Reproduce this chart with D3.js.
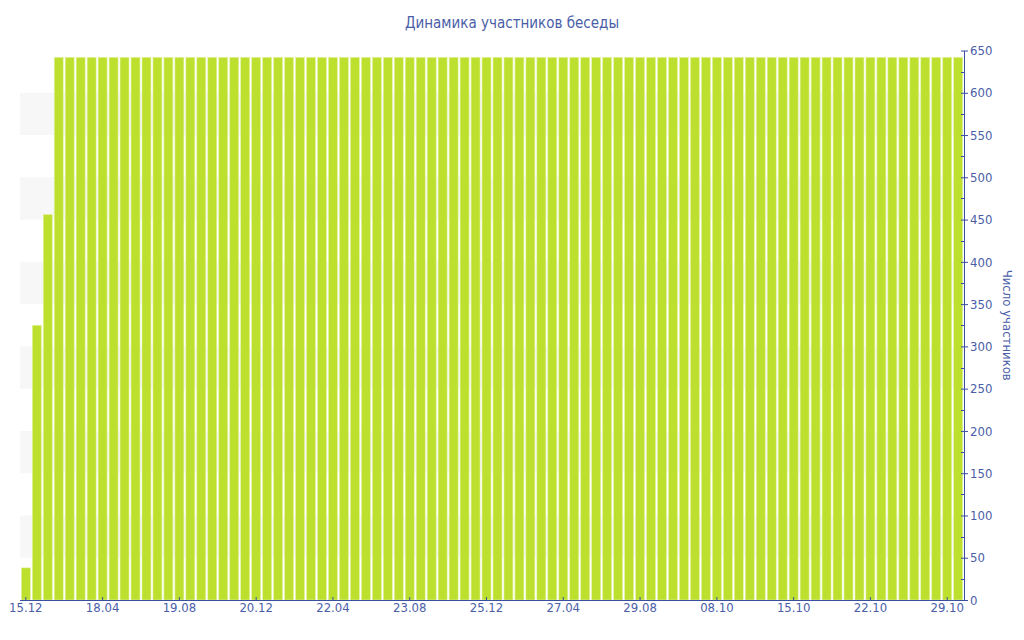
<!DOCTYPE html>
<html>
<head>
<meta charset="utf-8">
<script src="https://cdn.jsdelivr.net/npm/d3@7"></script>
<style>
  body { margin: 0; background: #fff; }
  svg text { font-family: "DejaVu Sans Condensed", "DejaVu Sans", Tahoma, sans-serif; fill: #4a5ea8; }
</style>
</head>
<body>
<svg id="chart"></svg>
<script>
// one bar per snapshot, 86 in all
var members = [
  38, 325, 456, 642, 642, 642, 642, 642, 642, 642,
  642, 642, 642, 642, 642, 642, 642, 642, 642, 642,
  642, 642, 642, 642, 642, 642, 642, 642, 642, 642,
  642, 642, 642, 642, 642, 642, 642, 642, 642, 642,
  642, 642, 642, 642, 642, 642, 642, 642, 642, 642,
  642, 642, 642, 642, 642, 642, 642, 642, 642, 642,
  642, 642, 642, 642, 642, 642, 642, 642, 642, 642,
  642, 642, 642, 642, 642, 642, 642, 642, 642, 642,
  642, 642, 642, 642, 642, 642
];

// labels shown under every 7th bar
var tickLabels = ["15.12", "18.04", "19.08", "20.12", "22.04", "23.08", "25.12",
                  "27.04", "29.08", "08.10", "15.10", "22.10", "29.10"];
var tickStep = 7;

var yTicks = [0, 50, 100, 150, 200, 250, 300, 350, 400, 450, 500, 550, 600, 650];

var width = 1024, height = 640;
var plotLeft = 20, plotRight = 964, plotTop = 50.5, plotBottom = 600;

var svg = d3.select("#chart")
  .attr("width", width)
  .attr("height", height);

var x = d3.scaleBand()
  .domain(d3.range(members.length))
  .range([plotLeft, plotRight])
  .paddingInner(0.18)
  .paddingOuter(0.12);

var y = d3.scaleLinear()
  .domain([0, 650])
  .range([plotBottom, plotTop]);

// alternating light bands
svg.append("g")
  .selectAll("rect")
  .data(d3.range(50, 650, 100))
  .enter().append("rect")
    .attr("x", plotLeft)
    .attr("width", plotRight - plotLeft)
    .attr("y", function(d) { return y(d + 50); })
    .attr("height", function(d) { return y(d) - y(d + 50); })
    .attr("fill", "#f7f7f7");

svg.append("g")
  .selectAll("rect")
  .data(members)
  .enter().append("rect")
    .attr("x", function(d, i) { return x(i); })
    .attr("width", x.bandwidth())
    .attr("y", function(d) { return y(d); })
    .attr("height", function(d) { return plotBottom - y(d); })
    .attr("fill", "#bde02f")
    .attr("stroke", "#e4f3a6")
    .attr("stroke-width", 0.6);

// bottom axis
var xAxis = d3.axisBottom(x)
  .tickValues(d3.range(0, members.length, tickStep))
  .tickFormat(function(d) { return tickLabels[d / tickStep]; })
  .tickSize(4)
  .tickSizeOuter(0);

var gx = svg.append("g")
  .attr("transform", "translate(0," + plotBottom + ")")
  .call(xAxis);
gx.select(".domain").attr("stroke", "#3b4fa0").attr("d", "M" + plotLeft + ",0.5H" + plotRight);
gx.selectAll(".tick line").attr("stroke", "#3b4fa0").attr("y1", -3).attr("y2", 0);
gx.selectAll(".tick text").attr("font-size", 13).attr("dy", "0.75em").attr("y", 2);

// right axis with minor ticks
var yAxis = d3.axisRight(y)
  .tickValues(yTicks)
  .tickSize(4)
  .tickSizeOuter(0)
  .tickPadding(2);

var gy = svg.append("g")
  .attr("transform", "translate(" + plotRight + ",0)")
  .call(yAxis);
gy.select(".domain").attr("stroke", "#3b4fa0");
gy.selectAll(".tick line").attr("stroke", "#3b4fa0").attr("x1", -3).attr("x2", 4);
gy.selectAll(".tick text").attr("font-size", 13);

gy.append("g")
  .selectAll("line")
  .data(d3.range(25, 650, 50))
  .enter().append("line")
    .attr("x1", -3)
    .attr("x2", 0)
    .attr("y1", function(d) { return Math.round(y(d)) + 0.5; })
    .attr("y2", function(d) { return Math.round(y(d)) + 0.5; })
    .attr("stroke", "#3b4fa0");

svg.append("text")
  .attr("transform", "translate(1003," + ((plotTop + plotBottom) / 2) + ") rotate(90)")
  .attr("text-anchor", "middle")
  .attr("font-size", 13)
  .text("Число участников");

svg.append("text")
  .attr("x", 512)
  .attr("y", 28)
  .attr("text-anchor", "middle")
  .attr("font-size", 15)
  .text("Динамика участников беседы");
</script>
</body>
</html>
